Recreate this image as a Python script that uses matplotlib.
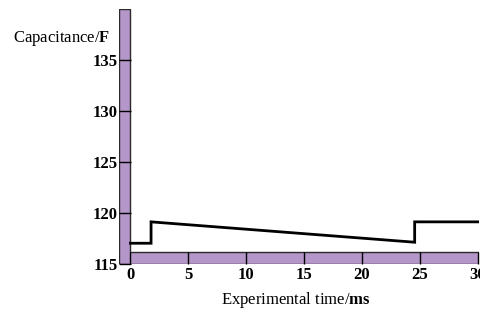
import matplotlib
matplotlib.use("Agg")
import matplotlib.pyplot as plt
from matplotlib.patches import Polygon

# data
time_ms = [0.0, 1.78, 1.78, 24.56, 24.56, 30.0]
capacitance = [117.0, 117.0, 119.1, 117.1, 119.1, 119.1]
x_ticks = [0, 5, 10, 15, 20, 25, 30]
y_ticks = [115, 120, 125, 130, 135]

plt.rcParams['font.family'] = ['Liberation Serif', 'DejaVu Serif']
plt.rcParams['mathtext.fontset'] = 'custom'
plt.rcParams['mathtext.rm'] = 'Liberation Serif'
plt.rcParams['mathtext.bf'] = 'Liberation Serif:bold'

fig = plt.figure(figsize=(4.81, 3.18), dpi=100)
ax = fig.add_axes([119/481, (318-263.6)/318, 360/481, (263.6-9.1)/318])
xmin, xmax = -0.99, 30.12
ymin, ymax = 115, 140
ax.set_xlim(xmin, xmax)
ax.set_ylim(ymin, ymax)
for s in ax.spines.values():
    s.set_visible(False)

purple = '#B596C8'
bar_h = 1.15
poly = Polygon([(xmin, ymax), (0, ymax), (0, ymin + bar_h), (xmax, ymin + bar_h),
                (xmax, ymin), (xmin, ymin)], closed=True,
               facecolor=purple, edgecolor='#2a2a2a', lw=1.0, zorder=1)
ax.add_patch(poly)

ax.plot(time_ms, capacitance, color='black', lw=2.0, zorder=3,
        solid_joinstyle='miter')

ax.set_xticks(x_ticks)
ax.set_yticks(y_ticks)
ax.tick_params(axis='y', direction='in', length=8.6, width=1.0, pad=1,
               labelsize=12)
ax.tick_params(axis='x', direction='in', length=8.4, width=1.0, pad=2.5,
               labelsize=12)
for lab in ax.get_xticklabels() + ax.get_yticklabels():
    lab.set_fontweight('bold')

fig.text(13/481, 1 - 38/318, r'Capacitance/$\mathbf{F}$', fontsize=12,
         ha='left', va='center')
fig.text(296/481, 1 - 300/318, r'Experimental time/$\mathbf{ms}$', fontsize=12,
         ha='center', va='center')

fig.savefig('out.png', dpi=100)
